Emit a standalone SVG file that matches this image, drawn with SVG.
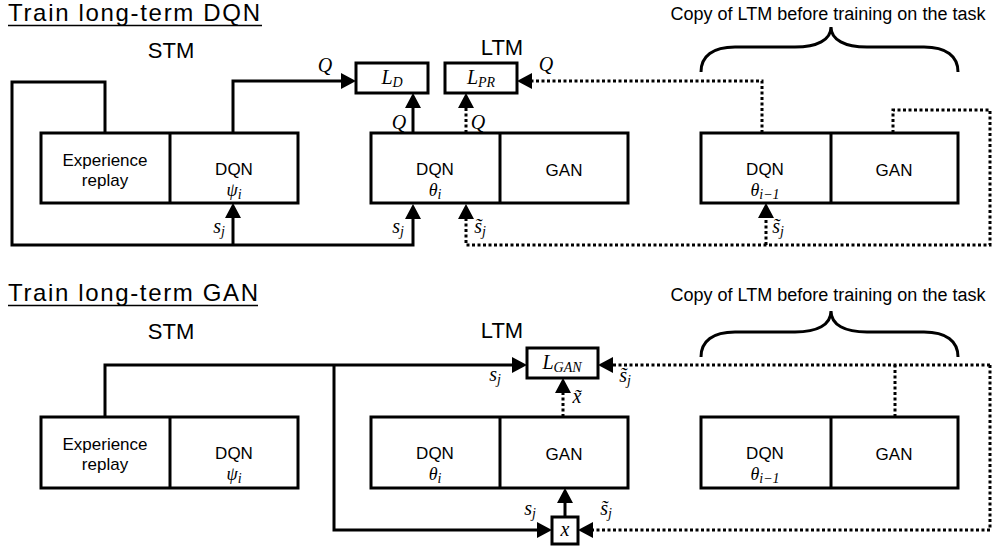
<svg xmlns="http://www.w3.org/2000/svg" width="992" height="548" viewBox="0 0 992 548">
<defs>
<marker id="ah" viewBox="0 0 15 16" refX="0" refY="8" markerWidth="15" markerHeight="16" markerUnits="userSpaceOnUse" orient="auto">
<path d="M0,0 L15,8 L0,16 Z" fill="#000" stroke="none"/>
</marker>
<style>
.bx{fill:#fff;stroke:#000;stroke-width:3}
.ln{fill:none;stroke:#000;stroke-width:3}
.dt{fill:none;stroke:#000;stroke-width:3;stroke-dasharray:3 2.5}
.ar{marker-end:url(#ah)}
.t{font-family:"Liberation Sans",Arial,sans-serif;fill:#000;text-anchor:middle}
.ttl{font-family:"Liberation Sans",Arial,sans-serif;font-size:24px;fill:#000}
.m{font-family:"Liberation Serif","Times New Roman",serif;font-style:italic;font-size:20px;fill:#000;text-anchor:middle}
.mb{font-size:18px}
.s{font-size:14px}
.br{fill:none;stroke:#000;stroke-width:3}
</style>
</defs>

<!-- ===== Top: Train long-term DQN ===== -->
<g id="title-dqn">
<text class="ttl" x="8" y="21" textLength="252" lengthAdjust="spacing">Train long-term DQN</text>
<line x1="8" y1="25.5" x2="262" y2="25.5" stroke="#000" stroke-width="1.6"/>
</g>
<text class="t" x="171" y="58" font-size="22">STM</text>
<text class="t" x="502" y="55" font-size="22">LTM</text>
<text class="t" x="828" y="20" font-size="18">Copy of LTM before training on the task</text>
<path id="brace-top" class="br" d="M701,72 C701,56 713,47 735,47 H795 C817,47 831,40 831,27 C831,40 845,47 867,47 H924 C946,47 958,56 958,72"/>

<g id="stm-top">
<rect class="bx" x="41" y="133" width="257" height="70"/>
<line x1="170" y1="133" x2="170" y2="203" stroke="#000" stroke-width="3"/>
<text class="t" x="105" y="166" font-size="17">Experience</text>
<text class="t" x="105" y="186" font-size="17">replay</text>
<text class="t" x="234" y="175" font-size="17">DQN</text>
<text class="m mb" x="234" y="196">ψ<tspan class="s" dy="3">i</tspan></text>
</g>

<g id="ltm-top">
<rect class="bx" x="371" y="133" width="257" height="70"/>
<line x1="500" y1="133" x2="500" y2="203" stroke="#000" stroke-width="3"/>
<text class="t" x="435" y="175" font-size="17">DQN</text>
<text class="m mb" x="435" y="196">θ<tspan class="s" dy="3">i</tspan></text>
<text class="t" x="564" y="176" font-size="17">GAN</text>
</g>

<g id="copy-top">
<rect class="bx" x="701" y="133" width="257" height="70"/>
<line x1="831" y1="133" x2="831" y2="203" stroke="#000" stroke-width="3"/>
<text class="t" x="765" y="175" font-size="17">DQN</text>
<text class="m mb" x="765" y="196">θ<tspan class="s" dy="3">i−1</tspan></text>
<text class="t" x="894" y="176" font-size="17">GAN</text>
</g>

<g id="loss-d">
<rect class="bx" x="356" y="63" width="72" height="30"/>
<text class="m" x="392" y="84">L<tspan class="s" dy="3">D</tspan></text>
</g>
<g id="loss-pr">
<rect class="bx" x="445" y="63" width="72" height="30"/>
<text class="m" x="481" y="84">L<tspan class="s" dy="3">PR</tspan></text>
</g>

<g id="connectors-top">
<path class="ln ar" d="M105,133 V82 H12 V245 H413 V219"/>
<path class="ln ar" d="M233,245 V218"/>
<path class="ln ar" d="M233,133 V81 H341"/>
<path class="ln ar" d="M413,133 V108"/>
<path class="dt ar" d="M466,133 V108"/>
<path class="dt ar" d="M762,133 V81 H532"/>
<path class="dt ar" d="M893,133 V110 H990 V245 H466 V219"/>
<path class="dt ar" d="M766,245 V218"/>
</g>
<g id="labels-top">
<text class="m" x="325" y="72">Q</text>
<text class="m" x="546" y="71">Q</text>
<text class="m" x="399" y="129">Q</text>
<text class="m" x="478" y="129">Q</text>
<text class="m" x="219" y="233">s<tspan class="s" dy="3">j</tspan></text>
<text class="m" x="398" y="233">s<tspan class="s" dy="3">j</tspan></text>
<text class="m" x="480" y="233">s̃<tspan class="s" dy="3">j</tspan></text>
<text class="m" x="778" y="233">s̃<tspan class="s" dy="3">j</tspan></text>
</g>

<!-- ===== Bottom: Train long-term GAN ===== -->
<g id="title-gan">
<text class="ttl" x="8" y="301" textLength="250" lengthAdjust="spacing">Train long-term GAN</text>
<line x1="8" y1="305.5" x2="258" y2="305.5" stroke="#000" stroke-width="1.6"/>
</g>
<text class="t" x="171" y="339" font-size="22">STM</text>
<text class="t" x="502" y="338" font-size="22">LTM</text>
<text class="t" x="828" y="301" font-size="18">Copy of LTM before training on the task</text>
<path id="brace-bottom" class="br" d="M701,357 C701,341 713,332 735,332 H795 C817,332 831,325 831,311 C831,325 845,332 867,332 H924 C946,332 958,341 958,357"/>

<g id="stm-bottom">
<rect class="bx" x="41" y="417" width="257" height="71"/>
<line x1="170" y1="417" x2="170" y2="488" stroke="#000" stroke-width="3"/>
<text class="t" x="105" y="450" font-size="17">Experience</text>
<text class="t" x="105" y="470" font-size="17">replay</text>
<text class="t" x="234" y="459" font-size="17">DQN</text>
<text class="m mb" x="234" y="480">ψ<tspan class="s" dy="3">i</tspan></text>
</g>

<g id="ltm-bottom">
<rect class="bx" x="371" y="417" width="257" height="71"/>
<line x1="500" y1="417" x2="500" y2="488" stroke="#000" stroke-width="3"/>
<text class="t" x="435" y="459" font-size="17">DQN</text>
<text class="m mb" x="435" y="480">θ<tspan class="s" dy="3">i</tspan></text>
<text class="t" x="564" y="460" font-size="17">GAN</text>
</g>

<g id="copy-bottom">
<rect class="bx" x="701" y="417" width="257" height="71"/>
<line x1="831" y1="417" x2="831" y2="488" stroke="#000" stroke-width="3"/>
<text class="t" x="765" y="459" font-size="17">DQN</text>
<text class="m mb" x="765" y="480">θ<tspan class="s" dy="3">i−1</tspan></text>
<text class="t" x="894" y="460" font-size="17">GAN</text>
</g>

<g id="loss-gan">
<rect class="bx" x="527" y="348" width="71" height="30"/>
<text class="m" x="562" y="369">L<tspan class="s" dy="3">GAN</tspan></text>
</g>
<g id="x-input">
<rect class="bx" x="552" y="517" width="26" height="27" stroke-width="2"/>
<text class="m" x="565" y="536">x</text>
</g>

<g id="connectors-bottom">
<path class="ln ar" d="M105,417 V365 H512"/>
<path class="ln ar" d="M334,365 V530 H537"/>
<path class="ln ar" d="M565,517 V503"/>
<path class="dt ar" d="M563,417 V393"/>
<path class="dt ar" d="M990,365 H613"/>
<path class="dt" d="M990,365 V530"/>
<path class="dt ar" d="M990,530 H593"/>
<path class="dt" d="M895,417 V365"/>
</g>
<g id="labels-bottom">
<text class="m" x="495" y="381">s<tspan class="s" dy="3">j</tspan></text>
<text class="m" x="625" y="382">s̃<tspan class="s" dy="3">j</tspan></text>
<text class="m" x="577" y="403">x̃</text>
<text class="m" x="530" y="515">s<tspan class="s" dy="3">j</tspan></text>
<text class="m" x="606" y="515">s̃<tspan class="s" dy="3">j</tspan></text>
</g>
</svg>
